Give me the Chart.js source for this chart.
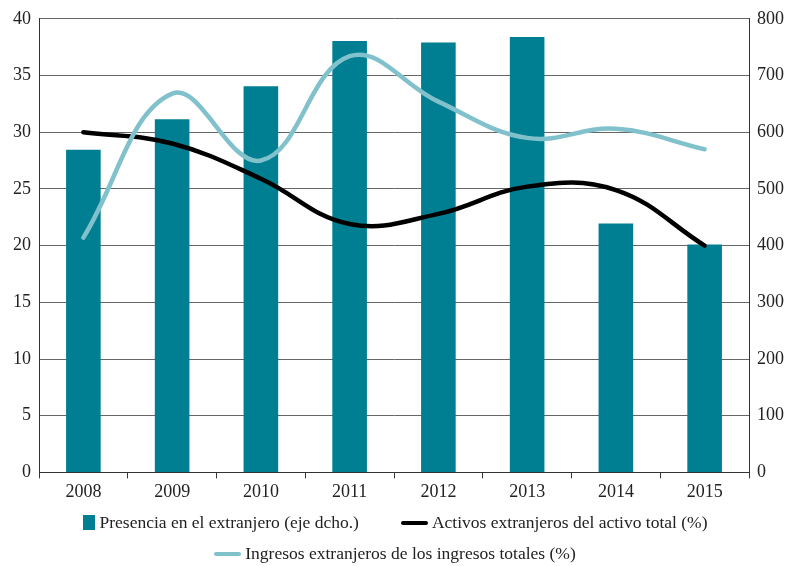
<!DOCTYPE html>
<html>
<head>
<meta charset="utf-8">
<script src="https://cdn.jsdelivr.net/npm/chart.js@4/dist/chart.umd.min.js"></script>
<style>
  body { margin: 0; background: #fff; }
  #wrap { position: relative; width: 790px; height: 566px; }
  .leyenda { position: absolute; left: 0; width: 790px; display: flex; justify-content: center; align-items: center;
             font-family: 'Liberation Serif', 'Times New Roman', serif; font-size: 17.5px; color: #222; }
  .item { display: flex; align-items: center; }
  .caja { width: 12px; height: 15px; background: #007f92; margin-right: 5px; }
  .linea { width: 27px; height: 4px; border-radius: 2px; margin-right: 4px; }
</style>
</head>
<body>
<div id="wrap">
  <canvas id="grafico" width="790" height="566"></canvas>
  <div class="leyenda" style="top: 512px;">
    <div class="item"><div class="caja"></div><span>Presencia en el extranjero (eje dcho.)</span></div>
    <div class="item" style="margin-left: 42px;"><div class="linea" style="background:#000"></div><span>Activos extranjeros del activo total (%)</span></div>
  </div>
  <div class="leyenda" style="top: 543px;">
    <div class="item"><div class="linea" style="background:#80c1cc"></div><span>Ingresos extranjeros de los ingresos totales (%)</span></div>
  </div>
</div>
<script>
// Datos del gráfico
const anios = ['2008', '2009', '2010', '2011', '2012', '2013', '2014', '2015'];
const presencia = [569, 623, 681, 761, 758, 768, 439, 402];           // eje derecho
const activosExt = [30.0, 29.0, 25.9, 21.9, 22.8, 25.2, 24.9, 20.0];  // %
const ingresosExt = [20.7, 33.4, 27.5, 36.7, 32.7, 29.5, 30.3, 28.5]; // %

const fuente = { family: "'Liberation Serif', 'Times New Roman', serif", size: 18 };

new Chart(document.getElementById('grafico'), {
    data: {
        labels: anios,
        datasets: [
            {
                type: 'line',
                label: 'Activos extranjeros del activo total (%)',
                data: activosExt,
                yAxisID: 'yIzq',
                borderColor: '#000',
                borderWidth: 4.5,
                tension: 0.4,
                pointRadius: 0,
                borderCapStyle: 'round',
                order: 1
            },
            {
                type: 'line',
                label: 'Ingresos extranjeros de los ingresos totales (%)',
                data: ingresosExt,
                yAxisID: 'yIzq',
                borderColor: '#80c1cc',
                borderWidth: 4.5,
                tension: 0.4,
                pointRadius: 0,
                borderCapStyle: 'round',
                order: 0
            },
            {
                type: 'bar',
                label: 'Presencia en el extranjero (eje dcho.)',
                data: presencia,
                yAxisID: 'yDer',
                backgroundColor: '#007f92',
                barPercentage: 0.39,
                categoryPercentage: 1,
                order: 2
            }
        ]
    },
    options: {
        responsive: false,
        animation: false,
        layout: { padding: { top: 8, bottom: 60 } },
        plugins: { legend: { display: false }, tooltip: { enabled: false } },
        scales: {
            x: {
                offset: true,
                grid: { offset: true, drawOnChartArea: false, color: '#333', tickLength: 6 },
                border: { color: '#333' },
                ticks: { font: fuente, color: '#222', padding: 3 }
            },
            yIzq: {
                position: 'left',
                min: 0, max: 40,
                ticks: { stepSize: 5, font: fuente, color: '#222', padding: 8 },
                grid: { color: '#666', drawTicks: false },
                border: { color: '#333' },
                afterFit: s => { s.width = 39; }
            },
            yDer: {
                position: 'right',
                min: 0, max: 800,
                ticks: { stepSize: 100, font: fuente, color: '#222', padding: 8 },
                grid: { drawOnChartArea: false, drawTicks: false },
                border: { color: '#333' },
                afterFit: s => { s.width = 41; }
            }
        }
    }
});
</script>
</body>
</html>
